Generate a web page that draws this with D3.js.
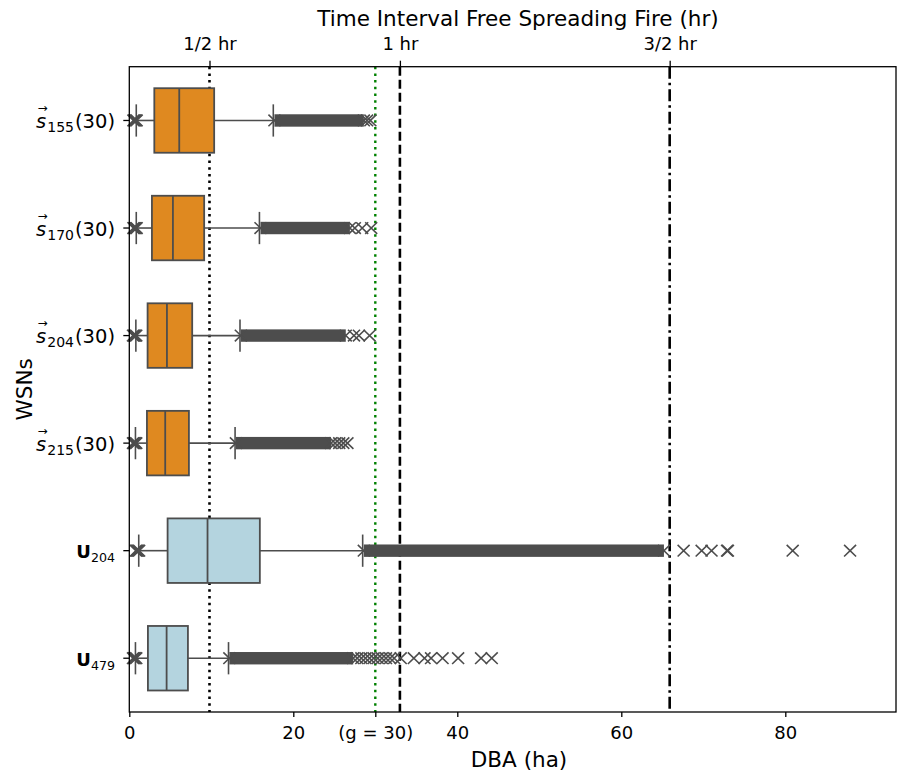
<!DOCTYPE html>
<html>
<head>
<meta charset="utf-8">
<script src="https://cdn.jsdelivr.net/npm/d3@7"></script>
<style>
  body { margin: 0; background: #fff; }
  text { font-family: "DejaVu Sans", sans-serif; }
</style>
</head>
<body>
<script>
// rows of the box plot, top to bottom
var rows = ["s155", "s170", "s204", "s215", "U204", "U479"];
var rowKind = ["s", "s", "s", "s", "U", "U"];
var rowSub = ["155", "170", "204", "215", "204", "479"];

// box stats (ha)
var whisLo = [0.85, 0.85, 0.80, 0.75, 1.15, 0.75];
var q1 = [3.05, 2.76, 2.23, 2.15, 4.67, 2.27];
var med = [6.09, 5.32, 4.59, 4.38, 9.54, 4.55];
var q3 = [10.35, 9.13, 7.67, 7.27, 15.92, 7.15];
var whisHi = [17.56, 15.87, 13.5, 12.9, 28.46, 12.1];

// fliers below the low whisker
var lowFliers = [
  [0.5, 0.6, 0.7, 0.8, 0.9], [0.5, 0.6, 0.7, 0.8, 0.9], [0.45, 0.55, 0.65, 0.75, 0.85],
  [0.45, 0.55, 0.65, 0.75, 0.85], [0.8, 0.9, 1.0, 1.1, 1.2], [0.45, 0.55, 0.65, 0.75, 0.85]
];
// stretches where the high fliers are so thick they merge: [from, to]
var denseFliers = [
  [17.7, 28.6], [16.0, 26.9], [13.6, 26.4], [13.0, 24.6], [28.6, 65.2], [12.2, 27.3]
];
// single high fliers after the thick stretch
var sparseFliers = [
  [29.0, 29.4],
  [27.5, 28.4, 29.5],
  [27.4, 28.0, 29.3],
  [25.1, 25.6, 26.1, 26.6],
  [67.6, 69.8, 71.0, 72.9, 73.0, 80.9, 87.9],
  [27.8, 28.3, 28.8, 29.3, 29.8, 30.3, 30.8, 31.3, 31.8, 32.3, 33.1, 34.7, 36.0, 36.8, 38.2, 40.1, 42.9, 44.2]
];

// reference lines
var hourMarks = [9.78, 33.0, 65.9];
var hourLabels = ["1/2 hr", "1 hr", "3/2 hr"];
var gValue = 30;
var xTicks = [0, 20, 30, 40, 60, 80];

var W = 897, H = 776;
var mLeft = 129.3, mRight = 896, mTop = 66.7, mBottom = 712;
var gray = "#4d4d4d";

var svg = d3.select("body").append("svg").attr("width", W).attr("height", H);

var x = d3.scaleLinear().domain([0, 93.5]).range([mLeft, mRight]);
var y = d3.scaleBand().domain(rows).range([mTop, mBottom]).padding(0);
var bw = y.bandwidth();
var boxH = bw * 0.6;
var color = d3.scaleOrdinal().domain(["s", "U"]).range(["#df8920", "#b4d4df"]);
function cy(i) { return y(rows[i]) + bw / 2; }

// vertical reference lines, behind the boxes
var refStyles = [
  { dash: "2.5,4.2", col: "#000", w: 2.6 },
  { dash: "9,4", col: "#000", w: 2.6 },
  { dash: "12,4,2.5,4", col: "#000", w: 2.6 }
];
hourMarks.forEach(function(v, i) {
  svg.append("line")
    .attr("x1", x(v)).attr("x2", x(v)).attr("y1", mTop).attr("y2", mBottom)
    .attr("stroke", refStyles[i].col).attr("stroke-width", refStyles[i].w)
    .attr("stroke-dasharray", refStyles[i].dash);
});
svg.append("line")
  .attr("x1", x(gValue)).attr("x2", x(gValue)).attr("y1", mTop).attr("y2", mBottom)
  .attr("stroke", "#008000").attr("stroke-width", 2.4).attr("stroke-dasharray", "2.5,4.2");

var xMark = "M-6,-5.8L6,5.8M-6,5.8L6,-5.8";
var plot = svg.append("g");

rows.forEach(function(r, i) {
  var c = cy(i);
  var g = plot.append("g");
  // whiskers
  g.append("line").attr("x1", x(whisLo[i])).attr("x2", x(q1[i])).attr("y1", c).attr("y2", c)
    .attr("stroke", gray).attr("stroke-width", 1.6);
  g.append("line").attr("x1", x(q3[i])).attr("x2", x(whisHi[i])).attr("y1", c).attr("y2", c)
    .attr("stroke", gray).attr("stroke-width", 1.6);
  [whisLo[i], whisHi[i]].forEach(function(v) {
    g.append("line").attr("x1", x(v)).attr("x2", x(v)).attr("y1", c - boxH / 4).attr("y2", c + boxH / 4)
      .attr("stroke", gray).attr("stroke-width", 1.6);
  });
  // box
  g.append("rect").attr("x", x(q1[i])).attr("y", c - boxH / 2)
    .attr("width", x(q3[i]) - x(q1[i])).attr("height", boxH)
    .attr("fill", color(rowKind[i])).attr("stroke", gray).attr("stroke-width", 1.8);
  g.append("line").attr("x1", x(med[i])).attr("x2", x(med[i]))
    .attr("y1", c - boxH / 2).attr("y2", c + boxH / 2)
    .attr("stroke", gray).attr("stroke-width", 1.8);
  // thick flier stretch
  var d = denseFliers[i];
  g.append("rect").attr("x", x(d[0])).attr("y", c - 6.2)
    .attr("width", x(d[1]) - x(d[0])).attr("height", 12.4).attr("fill", gray);
  var pts = lowFliers[i].concat(d, sparseFliers[i]);
  g.selectAll("path.fl").data(pts).enter().append("path")
    .attr("class", "fl")
    .attr("d", xMark)
    .attr("transform", function(v) { return "translate(" + x(v) + "," + c + ")"; })
    .attr("fill", "none").attr("stroke", gray).attr("stroke-width", 1.6);
});

// frame
svg.append("rect").attr("x", mLeft).attr("y", mTop).attr("width", mRight - mLeft).attr("height", mBottom - mTop)
  .attr("fill", "none").attr("stroke", "#000").attr("stroke-width", 1.3);

// bottom axis
var xAxis = svg.append("g").attr("transform", "translate(0," + mBottom + ")")
  .call(d3.axisBottom(x).tickValues(xTicks).tickSize(5).tickPadding(9)
    .tickFormat(function(v) { return v === gValue ? "(g = " + gValue + ")" : v; }));
xAxis.select(".domain").remove();
xAxis.selectAll("line").attr("stroke", "#000").attr("stroke-width", 1.3);
xAxis.selectAll("text").attr("font-size", 18).attr("font-family", "DejaVu Sans").attr("fill", "#000");

// top axis for time intervals
var tAxis = svg.append("g").attr("transform", "translate(0," + mTop + ")")
  .call(d3.axisTop(x).tickValues(hourMarks).tickSize(6).tickPadding(10.5)
    .tickFormat(function(v, i) { return hourLabels[i]; }));
tAxis.select(".domain").remove();
tAxis.selectAll("line").attr("stroke", "#000").attr("stroke-width", 1.3);
tAxis.selectAll("text").attr("font-size", 18).attr("font-family", "DejaVu Sans").attr("fill", "#000");

// left axis ticks, labels by hand
var yAxis = svg.append("g").attr("transform", "translate(" + mLeft + ",0)")
  .call(d3.axisLeft(y).tickSize(6).tickFormat(""));
yAxis.select(".domain").remove();
yAxis.selectAll("line").attr("stroke", "#000").attr("stroke-width", 1.3);

rows.forEach(function(r, i) {
  var c = cy(i);
  var t = svg.append("text").attr("x", 115).attr("y", c + 7.5)
    .attr("text-anchor", "end").attr("font-size", 19.5).attr("fill", "#000");
  if (rowKind[i] === "s") {
    t.append("tspan").attr("font-style", "italic").text("s");
    t.append("tspan").attr("font-size", 14).attr("dx", 1).attr("dy", 4).text(rowSub[i]);
    t.append("tspan").attr("dx", 1).attr("dy", -4).text("(30)");
    // arrow over s
    var node = t.node();
    var sx0 = node.getStartPositionOfChar(0).x, sx1 = node.getEndPositionOfChar(0).x;
    svg.append("text").attr("x", (sx0 + sx1) / 2 + 1.5).attr("y", c - 8.5)
      .attr("text-anchor", "middle").attr("font-size", 12).attr("fill", "#000").text("\u2192");
  } else {
    t.attr("font-size", 18);
    t.append("tspan").attr("font-weight", "bold").text("U");
    t.append("tspan").attr("font-size", 12.6).attr("dy", 4).text(rowSub[i]);
  }
});

// titles
svg.append("text").attr("x", 518).attr("y", 26).attr("text-anchor", "middle")
  .attr("font-size", 21.5).text("Time Interval Free Spreading Fire (hr)");
svg.append("text").attr("x", 519).attr("y", 767).attr("text-anchor", "middle")
  .attr("font-size", 21.5).text("DBA (ha)");
svg.append("text").attr("transform", "translate(32," + ((mTop + mBottom) / 2) + ") rotate(-90)")
  .attr("text-anchor", "middle").attr("font-size", 21.5).text("WSNs");
</script>
</body>
</html>
